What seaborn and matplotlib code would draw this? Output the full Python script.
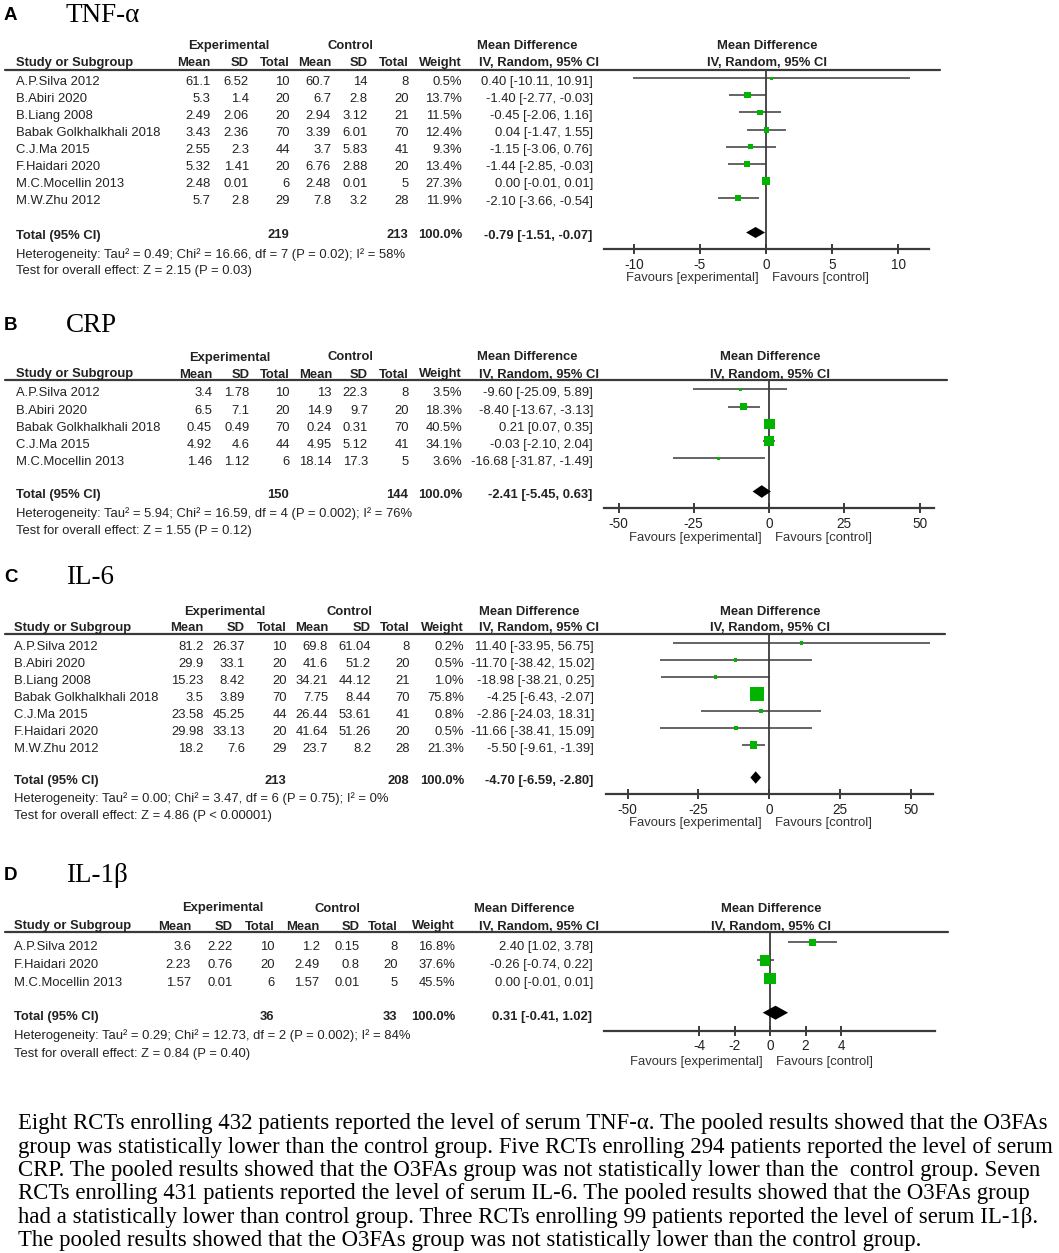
import matplotlib
matplotlib.use("Agg")
import matplotlib.pyplot as plt
import seaborn as sns
import numpy as np

W, H = 1059, 1253

# ---- A: TNF-alpha
tnf_studies = ["A.P.Silva 2012", "B.Abiri 2020", "B.Liang 2008", "Babak Golkhalkhali 2018",
               "C.J.Ma 2015", "F.Haidari 2020", "M.C.Mocellin 2013", "M.W.Zhu 2012"]
tnf_exp_mean = [61.1, 5.3, 2.49, 3.43, 2.55, 5.32, 2.48, 5.7]
tnf_exp_sd = [6.52, 1.4, 2.06, 2.36, 2.3, 1.41, 0.01, 2.8]
tnf_exp_n = [10, 20, 20, 70, 44, 20, 6, 29]
tnf_ctl_mean = [60.7, 6.7, 2.94, 3.39, 3.7, 6.76, 2.48, 7.8]
tnf_ctl_sd = [14, 2.8, 3.12, 6.01, 5.83, 2.88, 0.01, 3.2]
tnf_ctl_n = [8, 20, 21, 70, 41, 20, 5, 28]
tnf_weight = [0.5, 13.7, 11.5, 12.4, 9.3, 13.4, 27.3, 11.9]
tnf_md = [0.40, -1.40, -0.45, 0.04, -1.15, -1.44, 0.00, -2.10]
tnf_lo = [-10.11, -2.77, -2.06, -1.47, -3.06, -2.85, -0.01, -3.66]
tnf_hi = [10.91, -0.03, 1.16, 1.55, 0.76, -0.03, 0.01, -0.54]
tnf_total = [-0.79, -1.51, -0.07]
tnf_total_n = [219, 213]
tnf_het = "Heterogeneity: Tau² = 0.49; Chi² = 16.66, df = 7 (P = 0.02); I² = 58%"
tnf_test = "Test for overall effect: Z = 2.15 (P = 0.03)"
tnf_ticks = [-10, -5, 0, 5, 10]

# ---- B: CRP
crp_studies = ["A.P.Silva 2012", "B.Abiri 2020", "Babak Golkhalkhali 2018", "C.J.Ma 2015",
               "M.C.Mocellin 2013"]
crp_exp_mean = [3.4, 6.5, 0.45, 4.92, 1.46]
crp_exp_sd = [1.78, 7.1, 0.49, 4.6, 1.12]
crp_exp_n = [10, 20, 70, 44, 6]
crp_ctl_mean = [13, 14.9, 0.24, 4.95, 18.14]
crp_ctl_sd = [22.3, 9.7, 0.31, 5.12, 17.3]
crp_ctl_n = [8, 20, 70, 41, 5]
crp_weight = [3.5, 18.3, 40.5, 34.1, 3.6]
crp_md = [-9.60, -8.40, 0.21, -0.03, -16.68]
crp_lo = [-25.09, -13.67, 0.07, -2.10, -31.87]
crp_hi = [5.89, -3.13, 0.35, 2.04, -1.49]
crp_total = [-2.41, -5.45, 0.63]
crp_total_n = [150, 144]
crp_het = "Heterogeneity: Tau² = 5.94; Chi² = 16.59, df = 4 (P = 0.002); I² = 76%"
crp_test = "Test for overall effect: Z = 1.55 (P = 0.12)"
crp_ticks = [-50, -25, 0, 25, 50]

# ---- C: IL-6
il6_studies = ["A.P.Silva 2012", "B.Abiri 2020", "B.Liang 2008", "Babak Golkhalkhali 2018",
               "C.J.Ma 2015", "F.Haidari 2020", "M.W.Zhu 2012"]
il6_exp_mean = [81.2, 29.9, 15.23, 3.5, 23.58, 29.98, 18.2]
il6_exp_sd = [26.37, 33.1, 8.42, 3.89, 45.25, 33.13, 7.6]
il6_exp_n = [10, 20, 20, 70, 44, 20, 29]
il6_ctl_mean = [69.8, 41.6, 34.21, 7.75, 26.44, 41.64, 23.7]
il6_ctl_sd = [61.04, 51.2, 44.12, 8.44, 53.61, 51.26, 8.2]
il6_ctl_n = [8, 20, 21, 70, 41, 20, 28]
il6_weight = [0.2, 0.5, 1.0, 75.8, 0.8, 0.5, 21.3]
il6_md = [11.40, -11.70, -18.98, -4.25, -2.86, -11.66, -5.50]
il6_lo = [-33.95, -38.42, -38.21, -6.43, -24.03, -38.41, -9.61]
il6_hi = [56.75, 15.02, 0.25, -2.07, 18.31, 15.09, -1.39]
il6_total = [-4.70, -6.59, -2.80]
il6_total_n = [213, 208]
il6_het = "Heterogeneity: Tau² = 0.00; Chi² = 3.47, df = 6 (P = 0.75); I² = 0%"
il6_test = "Test for overall effect: Z = 4.86 (P < 0.00001)"
il6_ticks = [-50, -25, 0, 25, 50]

# ---- D: IL-1beta
il1_studies = ["A.P.Silva 2012", "F.Haidari 2020", "M.C.Mocellin 2013"]
il1_exp_mean = [3.6, 2.23, 1.57]
il1_exp_sd = [2.22, 0.76, 0.01]
il1_exp_n = [10, 20, 6]
il1_ctl_mean = [1.2, 2.49, 1.57]
il1_ctl_sd = [0.15, 0.8, 0.01]
il1_ctl_n = [8, 20, 5]
il1_weight = [16.8, 37.6, 45.5]
il1_md = [2.40, -0.26, 0.00]
il1_lo = [1.02, -0.74, -0.01]
il1_hi = [3.78, 0.22, 0.01]
il1_total = [0.31, -0.41, 1.02]
il1_total_n = [36, 33]
il1_het = "Heterogeneity: Tau² = 0.29; Chi² = 12.73, df = 2 (P = 0.002); I² = 84%"
il1_test = "Test for overall effect: Z = 0.84 (P = 0.40)"
il1_ticks = [-4, -2, 0, 2, 4]

caption_lines = [
    "Eight RCTs enrolling 432 patients reported the level of serum TNF-α. The pooled results showed that the O3FAs",
    "group was statistically lower than the control group. Five RCTs enrolling 294 patients reported the level of serum",
    "CRP. The pooled results showed that the O3FAs group was not statistically lower than the  control group. Seven",
    "RCTs enrolling 431 patients reported the level of serum IL-6. The pooled results showed that the O3FAs group",
    "had a statistically lower than control group. Three RCTs enrolling 99 patients reported the level of serum IL-1β.",
    "The pooled results showed that the O3FAs group was not statistically lower than the control group.",
]

sns.set_theme(style="white")
plt.rcParams["font.family"] = ["Liberation Sans", "DejaVu Sans"]

TXT = "#222222"
GREEN = "#00b400"
LINE = "#3a3a3a"
FS = 9.35
SERIF = ["Liberation Serif", "DejaVu Serif"]

fig = plt.figure(figsize=(W / 100, H / 100), dpi=100)
bg = fig.add_axes([0, 0, 1, 1])
bg.set_xlim(0, W)
bg.set_ylim(H, 0)
bg.axis("off")


def txt(x, y, s, ha="left", bold=False, size=FS, **kw):
    bg.text(x, y, s, ha=ha, va="center", fontsize=size, color=kw.pop("color", TXT),
            fontweight="bold" if bold else "normal", **kw)


def draw_panel(p):
    d = p["data"]
    cols = p["cols"]
    # panel letter and title
    txt(4, p["letter_y"], p["letter"], bold=True, size=13.5, color="black")
    txt(66, p["letter_y"], p["title"], size=19.5, color="black", family=SERIF)

    # header rows
    txt(p["exp_c"], p["hdr1"], "Experimental", ha="center", bold=True)
    txt(p["ctl_c"], p["hdr1"], "Control", ha="center", bold=True)
    txt(p["md_c"], p["hdr1"], "Mean Difference", ha="center", bold=True)
    txt(p["name_x"], p["hdr2"], "Study or Subgroup", bold=True)
    for x, lab in zip(cols[:7], ["Mean", "SD", "Total", "Mean", "SD", "Total", "Weight"]):
        txt(x, p["hdr2"], lab, ha="right", bold=True)
    txt(599, p["hdr2"], "IV, Random, 95% CI", ha="right", bold=True)
    txt(p["zero_px"] + 1, p["hdr1"], "Mean Difference", ha="center", bold=True)
    txt(p["zero_px"] + 1, p["hdr2"], "IV, Random, 95% CI", ha="center", bold=True)
    bg.plot([5, p["line_end"]], [p["line"], p["line"]], color=LINE, lw=1.6)

    # study rows
    n = len(d["studies"])
    rows = [p["row0"] + i * p["step"] for i in range(n)]
    for i, y in enumerate(rows):
        txt(p["name_x"], y, d["studies"][i])
        vals = [f"{d['em'][i]:g}", f"{d['es'][i]:g}", f"{d['en'][i]}",
                f"{d['cm'][i]:g}", f"{d['cs'][i]:g}", f"{d['cn'][i]}",
                f"{d['w'][i]:.1f}%",
                f"{d['md'][i]:.2f} [{d['lo'][i]:.2f}, {d['hi'][i]:.2f}]"]
        for x, v in zip(cols, vals):
            txt(x, y, v, ha="right")

    # total / footnotes
    tmd, tlo, thi = d["total"]
    txt(p["name_x"], p["total_y"], "Total (95% CI)", bold=True)
    txt(cols[2] - 1, p["total_y"], f"{d['total_n'][0]}", ha="right", bold=True)
    txt(cols[5] - 1, p["total_y"], f"{d['total_n'][1]}", ha="right", bold=True)
    txt(cols[6], p["total_y"], "100.0%", ha="right", bold=True)
    txt(cols[7] - 1, p["total_y"], f"{tmd:.2f} [{tlo:.2f}, {thi:.2f}]", ha="right", bold=True)
    txt(p["name_x"], p["het_y"], d["het"])
    txt(p["name_x"], p["test_y"], d["test"])

    # forest axes, y in pixel units
    x0, x1 = p["ax_x0"], p["ax_x1"]
    ax = fig.add_axes([x0 / W, 1 - p["axis_y"] / H, (x1 - x0) / W, (p["axis_y"] - p["line"]) / H])
    ax.set_facecolor("none")
    unit = p["unit"]
    ax.set_xlim((x0 - p["zero_px"]) / unit, (x1 - p["zero_px"]) / unit)
    ax.set_ylim(p["axis_y"], p["line"])
    ax.axvline(0, color=LINE, lw=1.3, zorder=1)
    ymark = [y - p["off"] for y in rows]
    ax.hlines(ymark, d["lo"], d["hi"], color=LINE, lw=1.1, zorder=2)
    side_pt = [max(3.2, 1.65 * np.sqrt(w)) * 0.72 for w in d["w"]]
    sns.scatterplot(x=d["md"], y=ymark, s=[s ** 2 for s in side_pt], marker="s",
                    color=GREEN, linewidth=0, ax=ax, zorder=3, legend=False)
    yd = p["total_y"] - p["off"] + 0.5
    hh = p["dh"]
    ax.fill([tlo, tmd, thi, tmd], [yd, yd - hh, yd, yd + hh], color="black", lw=0, zorder=3)

    for s in ["left", "top", "right"]:
        ax.spines[s].set_visible(False)
    ax.spines["bottom"].set_color(LINE)
    ax.spines["bottom"].set_linewidth(1.6)
    ax.set_yticks([])
    ax.set_xticks(d["ticks"])
    ax.set_xticklabels([f"{t:g}" for t in d["ticks"]])
    ax.tick_params(axis="x", direction="inout", length=7, width=1.4, color=LINE,
                   labelsize=9.8, labelcolor=TXT, pad=2.5, bottom=True)

    txt(p["zero_px"] - 7, p["fav_y"], "Favours [experimental]", ha="right", color="#333333")
    txt(p["zero_px"] + 6, p["fav_y"], "Favours [control]", color="#333333")


def pack(studies, em, es, en, cm, cs, cn, w, md, lo, hi, total, total_n, het, test, ticks):
    return dict(studies=studies, em=em, es=es, en=en, cm=cm, cs=cs, cn=cn, w=w,
                md=md, lo=lo, hi=hi, total=total, total_n=total_n, het=het, test=test,
                ticks=ticks)


panels = [
    dict(letter="A", title="TNF-α", letter_y=16,
         data=pack(tnf_studies, tnf_exp_mean, tnf_exp_sd, tnf_exp_n, tnf_ctl_mean, tnf_ctl_sd,
                   tnf_ctl_n, tnf_weight, tnf_md, tnf_lo, tnf_hi, tnf_total, tnf_total_n,
                   tnf_het, tnf_test, tnf_ticks),
         hdr1=46, hdr2=63, line=69.5, row0=81.8, step=17.1, total_y=235.5, het_y=254.3,
         test_y=271, axis_y=249.3, fav_y=278.3, zero_px=766, unit=13.2, ax_x0=604, ax_x1=929,
         line_end=940, off=3.5, dh=5.5, name_x=16,
         cols=[210.5, 249, 290, 331, 367.5, 409, 462, 593], exp_c=229, ctl_c=350, md_c=527),
    dict(letter="B", title="CRP", letter_y=326,
         data=pack(crp_studies, crp_exp_mean, crp_exp_sd, crp_exp_n, crp_ctl_mean, crp_ctl_sd,
                   crp_ctl_n, crp_weight, crp_md, crp_lo, crp_hi, crp_total, crp_total_n,
                   crp_het, crp_test, crp_ticks),
         hdr1=357.5, hdr2=374.5, line=380, row0=393.3, step=17.25, total_y=495, het_y=513.3,
         test_y=530.7, axis_y=508.3, fav_y=538.3, zero_px=769, unit=3.01, ax_x0=604, ax_x1=934,
         line_end=947, off=4, dh=6.3, name_x=16,
         cols=[212, 249.5, 290, 332, 368, 409, 462, 593], exp_c=230, ctl_c=350, md_c=527),
    dict(letter="C", title="IL-6", letter_y=577,
         data=pack(il6_studies, il6_exp_mean, il6_exp_sd, il6_exp_n, il6_ctl_mean, il6_ctl_sd,
                   il6_ctl_n, il6_weight, il6_md, il6_lo, il6_hi, il6_total, il6_total_n,
                   il6_het, il6_test, il6_ticks),
         hdr1=611.7, hdr2=628.3, line=634, row0=647, step=17.0, total_y=781, het_y=799,
         test_y=816.5, axis_y=794.3, fav_y=822.7, zero_px=769, unit=2.83, ax_x0=606, ax_x1=933,
         line_end=945, off=4, dh=6.2, name_x=13.5,
         cols=[203.5, 245, 287, 328, 371, 410, 464, 594], exp_c=225, ctl_c=349.5, md_c=529),
    dict(letter="D", title="IL-1β", letter_y=875,
         data=pack(il1_studies, il1_exp_mean, il1_exp_sd, il1_exp_n, il1_ctl_mean, il1_ctl_sd,
                   il1_ctl_n, il1_weight, il1_md, il1_lo, il1_hi, il1_total, il1_total_n,
                   il1_het, il1_test, il1_ticks),
         hdr1=908.5, hdr2=926.5, line=932.3, row0=947, step=18, total_y=1016.7, het_y=1035.5,
         test_y=1053.5, axis_y=1031, fav_y=1061.7, zero_px=770, unit=17.75, ax_x0=604,
         ax_x1=935, line_end=948, off=4.5, dh=7, name_x=14,
         cols=[191, 232.7, 275, 319.6, 359.7, 398, 455, 593], exp_c=223, ctl_c=337.6, md_c=524),
]

for p in panels:
    draw_panel(p)

for i, line in enumerate(caption_lines):
    bg.text(18, 1124 + i * 23.3, line, ha="left", va="center", fontsize=16.4,
            color="black", family=SERIF)

fig.savefig("out.png", dpi=100)
plt.close("all")
